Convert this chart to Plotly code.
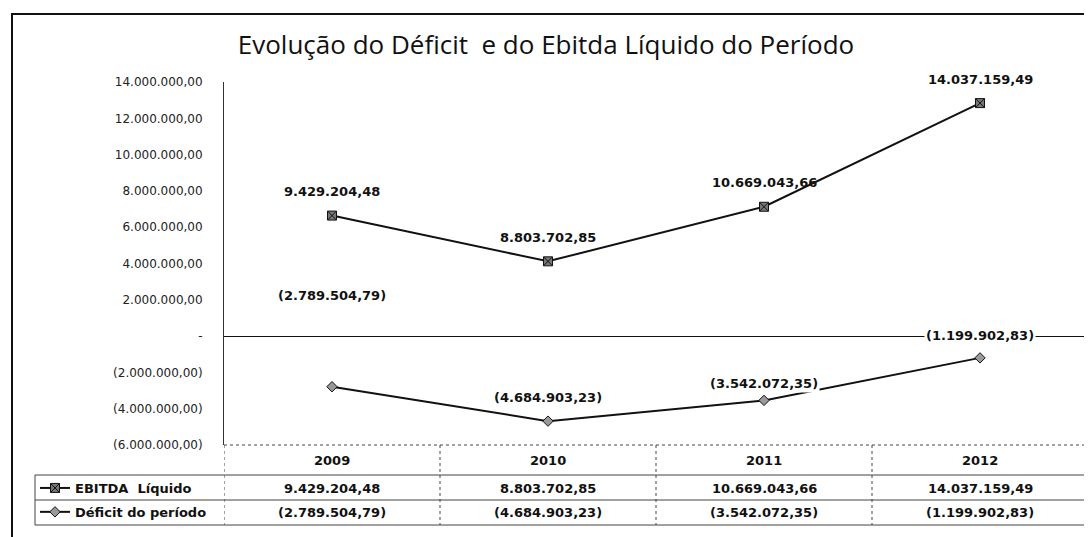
import plotly.graph_objects as go

# ── Data ──────────────────────────────────────────────────────────────────────
anos    = ["2009", "2010", "2011", "2012"]
ebitda  = [9429204.48, 8803702.85, 10669043.66, 14037159.49]
deficit = [-2789504.79, -4684903.23, -3542072.35, -1199902.83]
y_ticks = [-6e6, -4e6, -2e6, 0, 2e6, 4e6, 6e6, 8e6, 10e6, 12e6, 14e6]

TITLE = "Evolução do Déficit  e do Ebitda Líquido do Período"
FONT  = "'DejaVu Sans', sans-serif"
TFONT = "'Open Sans', sans-serif"

# page geometry (the html body adds an 8px margin)
OFF = 8
W, H = 1084, 529
L, R, T, B = 216, 4, 74, 92
PW, PH = W - L - R, H - T - B


def br(v):
    """Brazilian number format, negatives in parentheses."""
    s = f"{abs(v):,.2f}".replace(",", "X").replace(".", ",").replace("X", ".")
    return f"({s})" if v < 0 else s


def tick_txt(v):
    return "-" if v == 0 else br(v)


def px(x):  # screen x -> paper x
    return (x - OFF - L) / PW


def py(y):  # screen y -> paper y
    return (H - B - (y - OFF)) / PH


fig = go.Figure()

# Excel "stacked line": deficit at the bottom, EBITDA stacked on top of it
fig.add_trace(go.Scatter(
    x=anos, y=deficit, name="Déficit do período",
    stackgroup="s", fill="none", mode="lines+markers",
    line=dict(color="#111", width=2),
    marker=dict(symbol="diamond", size=8, color="#999", line=dict(color="#111", width=1)),
    legendrank=2, legendgroup="b",
))
fig.add_trace(go.Scatter(
    x=anos, y=ebitda, name="EBITDA  Líquido",
    stackgroup="s", fill="none", mode="lines+markers",
    line=dict(color="#111", width=2),
    marker=dict(symbol="square-x", size=9, color="#777", line=dict(color="#111", width=1)),
    legendrank=1, legendgroup="a",
))

lbl_font = dict(family=FONT, size=13, color="#111")

# data labels (Excel placed the deficit ones at irregular heights)
d_shift = [91, 24, 17, 22]
for i, v in enumerate(deficit):
    fig.add_annotation(x=i, y=v, text=f"<b>{br(v)}</b>", showarrow=False,
                       yshift=d_shift[i], bgcolor="white", font=lbl_font)
for i, v in enumerate(ebitda):
    fig.add_annotation(x=i, y=v + deficit[i], text=f"<b>{br(v)}</b>", showarrow=False,
                       yshift=24, font=lbl_font)

# ── data table below the plot ────────────────────────────────────────────────
shapes = []
line_c = "#444"
rows_y = [445, 475, 500, 525]
shapes.append(dict(type="line", xref="paper", yref="paper",
                   x0=0, x1=1, y0=py(rows_y[0]), y1=py(rows_y[0]),
                   line=dict(color=line_c, width=1, dash="dot")))
for yy in rows_y[1:]:
    shapes.append(dict(type="line", xref="paper", yref="paper",
                       x0=px(35), x1=1, y0=py(yy), y1=py(yy),
                       line=dict(color=line_c, width=1)))
# column separators
for i in range(len(anos) + 1):
    shapes.append(dict(type="line", xref="x", yref="paper",
                       x0=i - 0.5, x1=i - 0.5, y0=py(445), y1=py(525),
                       line=dict(color=line_c, width=1, dash="dot")))
shapes.append(dict(type="line", xref="paper", yref="paper",
                   x0=px(35), x1=px(35), y0=py(475), y1=py(525),
                   line=dict(color=line_c, width=1)))
# outer frame of the chart
shapes.append(dict(type="rect", xref="paper", yref="paper",
                   x0=px(12), x1=px(1110), y0=py(570), y1=py(14),
                   line=dict(color="#111", width=2)))

for i, ano in enumerate(anos):
    cells = [(460, ano), (488, br(ebitda[i])), (512, br(deficit[i]))]
    for yy, txt in cells:
        fig.add_annotation(x=i, y=py(yy), yref="paper", yanchor="middle",
                           text=f"<b>{txt}</b>", showarrow=False, font=lbl_font)

fig.update_layout(
    width=W, height=H,
    margin=dict(l=L, r=R, t=T, b=B),
    paper_bgcolor="white", plot_bgcolor="white",
    title=dict(text=TITLE, x=(546 - OFF) / W, xanchor="center",
               y=1 - (45 - OFF) / H, yanchor="middle",
               font=dict(family=TFONT, size=26, color="#111")),
    font=dict(family=FONT, color="#111"),
    shapes=shapes,
    showlegend=True,
    legend=dict(x=px(35), y=py(473), xanchor="left", yanchor="top",
                font=dict(family=FONT, size=13, color="#111", weight="bold"),
                tracegroupgap=4, bgcolor="rgba(0,0,0,0)", itemwidth=30),
    xaxis=dict(type="category", range=[-0.5, 3.5], showticklabels=False,
               showgrid=False, showline=False, zeroline=False, ticks=""),
    yaxis=dict(range=[-6e6, 14e6], tickvals=y_ticks,
               ticktext=[tick_txt(v) for v in y_ticks],
               tickfont=dict(family=FONT, size=12, color="#222"),
               showgrid=False, showline=True, linecolor="#333", linewidth=1,
               zeroline=True, zerolinecolor="#111", zerolinewidth=1,
               ticks="", ticklabelstandoff=18),
)

fig.write_html("out.html")
